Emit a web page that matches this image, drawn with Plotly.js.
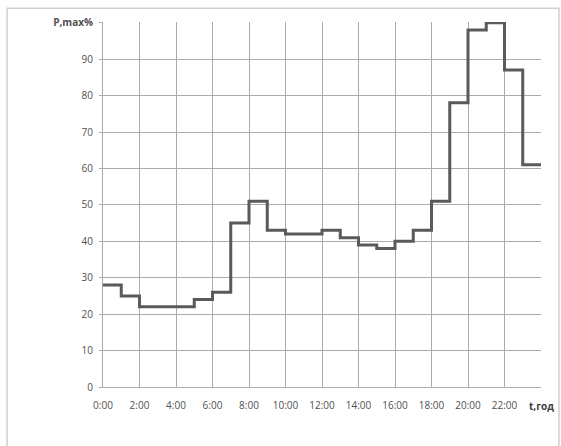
<!DOCTYPE html>
<html>
<head>
<meta charset="utf-8">
<script src="https://cdn.plot.ly/plotly-3.0.1.min.js"></script>
<style>html,body{margin:0;padding:0;background:#fff;}#chart{width:561px;height:446px;}</style>
</head>
<body>
<div id="chart"></div>
<script>
// Hour boundaries (0..24) and hourly load values, % of max
const hours = [0,1,2,3,4,5,6,7,8,9,10,11,12,13,14,15,16,17,18,19,20,21,22,23,24];
const loadPct = [28,25,22,22,22,24,26,45,51,43,42,42,43,41,39,38,40,43,51,78,98,100,87,61];
const xTickVals = [0,2,4,6,8,10,12,14,16,18,20,22];
const xTickText = ['0:00','2:00','4:00','6:00','8:00','10:00','12:00','14:00','16:00','18:00','20:00','22:00'];
const yTickVals = [0,10,20,30,40,50,60,70,80,90,100];
const yTickText = ['0','10','20','30','40','50','60','70','80','90','<b>P,max%</b>'];
const xAxisLabel = 't,год';

const yStep = loadPct.concat([loadPct[loadPct.length-1]]);

const trace = {
  x: hours, y: yStep, type: 'scatter', mode: 'lines',
  line: {shape: 'hv', color: '#5a5a5a', width: 3},
  hoverinfo: 'skip'
};

const grid = '#ababab';
const layout = {
  width: 561, height: 446,
  margin: {l: 103, r: 20, t: 22, b: 59},
  paper_bgcolor: '#fff', plot_bgcolor: '#fff',
  showlegend: false,
  font: {family: 'Open Sans, sans-serif', size: 10, color: '#505050'},
  xaxis: {
    range: [0, 24], tickvals: xTickVals, ticktext: xTickText,
    showgrid: true, gridcolor: grid, gridwidth: 1,
    showline: true, linecolor: grid, linewidth: 1,
    zeroline: false, ticks: '', ticklabelstandoff: 9,
    fixedrange: true
  },
  yaxis: {
    range: [0, 100.2], tickvals: yTickVals, ticktext: yTickText,
    showgrid: true, gridcolor: grid, gridwidth: 1,
    showline: true, linecolor: grid, linewidth: 1,
    zeroline: false, ticks: 'outside', ticklen: 3, tickcolor: grid,
    ticklabelstandoff: 4,
    fixedrange: true
  },
  annotations: [{
    x: 24, y: 0, xref: 'x', yref: 'paper', yshift: -19,
    text: '<b>' + xAxisLabel + '</b>', showarrow: false,
    xanchor: 'center', yanchor: 'middle',
    font: {family: 'Open Sans, sans-serif', size: 10, color: '#404040'}
  }],
  shapes: [{
    type: 'rect', xref: 'paper', yref: 'paper',
    x0: -0.219, x1: 1.041, y0: -0.5, y1: 1.038,
    line: {color: '#d0d0d0', width: 1.5}
  }]
};

Plotly.newPlot('chart', [trace], layout, {displayModeBar: false, staticPlot: true});
</script>
</body>
</html>
